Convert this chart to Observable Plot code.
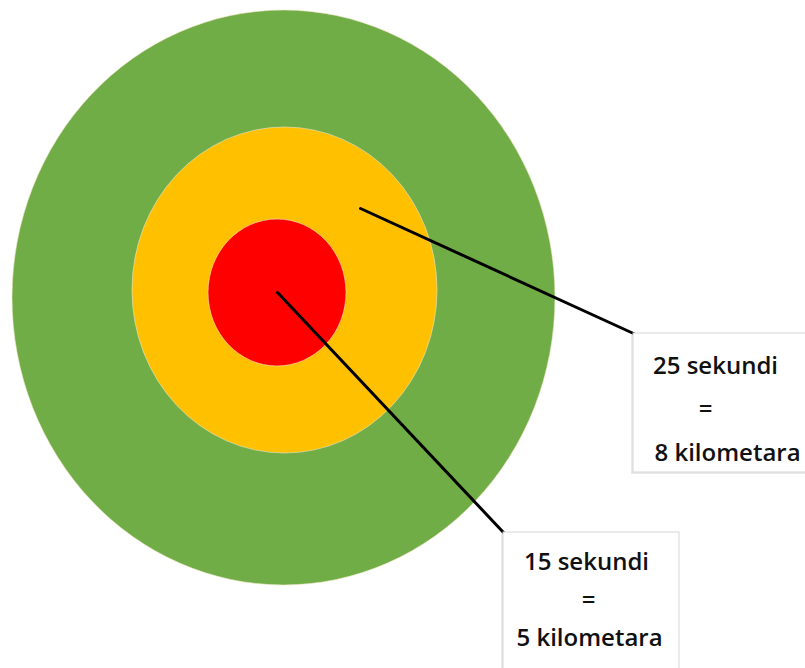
<!DOCTYPE html>
<html>
<head>
<meta charset="utf-8">
<style>
  html, body { margin: 0; padding: 0; background: #ffffff; }
  #chart { width: 805px; height: 668px; overflow: hidden; }
</style>
<script src="https://cdn.jsdelivr.net/npm/d3@7"></script>
<script src="https://cdn.jsdelivr.net/npm/@observablehq/plot@0.6"></script>
</head>
<body>
<div id="chart"></div>
<script>
// Rings of the target diagram (diagram coordinates, y grows downward)
const ringNames = ["outer", "middle", "inner"];
const ringLeft   = [12, 132, 208];
const ringRight  = [555, 437, 346];
const ringTop    = [10, 127, 219];
const ringBottom = [585, 453, 366];
const ringColors = ["#70AD47", "#FFC000", "#FF0000"];

// Callout labels
const labelSeconds = ["25 sekundi", "15 sekundi"];
const labelKm      = ["8 kilometara", "5 kilometara"];

// Leader lines: from point inside ring to box corner
const leaderFromX = [360, 277];
const leaderFromY = [208, 292];
const leaderToX   = [633, 503];
const leaderToY   = [333, 532];

// Callout boxes
const boxLeft   = [633, 503];
const boxRight  = [812, 679];
const boxTop    = [333, 532];
const boxBottom = [472, 676];

// Text line positions inside each box
const line1X = [715, 586], line1Y = [366, 562];
const eqX    = [705, 588], eqY    = [409, 600];
const line3X = [727, 589], line3Y = [453, 638];

const rings = ringNames.map((n, i) => ({
  name: n, x1: ringLeft[i], x2: ringRight[i], y1: ringTop[i], y2: ringBottom[i]
}));
const leaders = leaderFromX.map((_, i) => ({
  x1: leaderFromX[i], y1: leaderFromY[i], x2: leaderToX[i], y2: leaderToY[i]
}));
const boxes = boxLeft.map((_, i) => ({
  x1: boxLeft[i], x2: boxRight[i], y1: boxTop[i], y2: boxBottom[i]
}));
const texts = [];
labelSeconds.forEach((s, i) => {
  texts.push({x: line1X[i], y: line1Y[i], t: s});
  texts.push({x: eqX[i], y: eqY[i], t: "="});
  texts.push({x: line3X[i], y: line3Y[i], t: labelKm[i]});
});

const font = "'Open Sans', 'Noto Sans', sans-serif";

const chart = Plot.plot({
  width: 805,
  height: 668,
  marginTop: 0, marginRight: 0, marginBottom: 0, marginLeft: 0,
  x: {domain: [0, 805], axis: null},
  y: {domain: [0, 668], reverse: true, axis: null},
  color: {domain: ringNames, range: ringColors},
  style: {background: "#ffffff", fontFamily: font},
  marks: [
    ...rings.map(r => Plot.rect([r], {
      x1: "x1", x2: "x2", y1: "y1", y2: "y2",
      fill: "name", rx: 2000, ry: 2000,
      stroke: "#f2e6c8", strokeWidth: 1, strokeOpacity: 0.6
    })),
    Plot.link(leaders, {
      x1: "x1", y1: "y1", x2: "x2", y2: "y2",
      stroke: "#000000", strokeWidth: 3, strokeLinecap: "round"
    }),
    // soft shadow
    Plot.rect(boxes, {
      x1: d => d.x1 - 2, x2: d => d.x2 - 2, y1: d => d.y1 + 2, y2: d => d.y2 + 2,
      fill: "#cfcfcf", fillOpacity: 0.45
    }),
    Plot.rect(boxes, {
      x1: "x1", x2: "x2", y1: "y1", y2: "y2",
      fill: "#ffffff", stroke: "#d6d6d6", strokeWidth: 1
    }),
    Plot.text(texts, {
      x: "x", y: "y", text: "t",
      fontSize: 24, fontWeight: 600, fill: "#111111",
      textAnchor: "middle", lineAnchor: "middle", fontFamily: font
    })
  ]
});

document.getElementById("chart").appendChild(chart);
</script>
</body>
</html>
